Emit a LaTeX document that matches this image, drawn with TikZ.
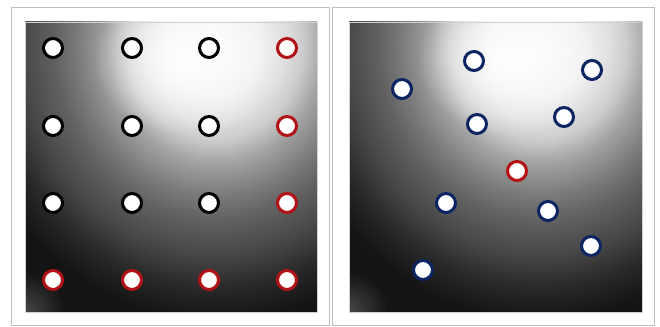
\documentclass[tikz,border=0pt]{standalone}
\usepackage{tikz}
\usetikzlibrary{fadings}
\definecolor{ringred}{RGB}{178,18,22}
\definecolor{ringblue}{RGB}{12,36,98}
\pgfdeclareradialshading{glowshade}{\pgfpoint{0bp}{0bp}}{%
  color(0bp)=(black!2); color(2.5bp)=(black!6); color(3.75bp)=(black!12);
  color(4.75bp)=(black!20); color(5.875bp)=(black!36); color(7.5bp)=(black!52);
  color(8.75bp)=(black!62); color(10.625bp)=(black!73); color(12.125bp)=(black!84);
  color(13.75bp)=(black!92); color(50bp)=(black!95)}
\tikzfading[name=glowfade, inner color=transparent!0, outer color=transparent!100]
\tikzset{
  frame/.style={fill=white, draw=black!25, line width=0.6pt},
  panel/.style={draw=black!18, line width=0.4pt},
  hotspot/.style={fill=white, path fading=glowfade},
  smudge/.style={fill=white, fill opacity=0.22, path fading=glowfade},
  ring/.style={circle, fill=white, line width=0.075cm, minimum size=0.475cm, inner sep=0pt},
  blackring/.style={ring, draw=black},
  redring/.style={ring, draw=ringred},
  bluering/.style={ring, draw=ringblue},
}
\begin{document}
\begin{tikzpicture}
\useasboundingbox (0,0) rectangle (16.5,8.175);
% frames
\draw[frame] (0.275,0.05) rectangle (8.225,8.0);
\draw[frame] (8.3,0.05) rectangle (16.35,8.0);
% left panel background
\begin{scope}
\clip (0.625,0.375) rectangle (7.925,7.625);
\shade[shading=glowshade] (-6.125,-5.45) rectangle (16.875,19.55);
\fill[hotspot] (4.625,6.7) ellipse (2.3 and 1.9);
\fill[smudge] (0.625,0.375) circle (1.0);
\end{scope}
\draw[panel] (0.625,0.375) rectangle (7.925,7.625);
% right panel background
\begin{scope}
\clip (8.725,0.375) rectangle (16.05,7.625);
\shade[shading=glowshade] (1.975,-5.45) rectangle (24.975,19.55);
\fill[hotspot] (12.725,6.7) ellipse (2.3 and 1.9);
\fill[smudge] (8.725,0.375) circle (1.0);
\end{scope}
\draw[panel] (8.725,0.375) rectangle (16.05,7.625);
% left grid
\node[blackring] (g11) at (1.325,6.975) {};
\node[blackring] (g12) at (3.3,6.975) {};
\node[blackring] (g13) at (5.225,6.975) {};
\node[redring] (g14) at (7.175,6.975) {};
\node[blackring] (g21) at (1.325,5.025) {};
\node[blackring] (g22) at (3.3,5.025) {};
\node[blackring] (g23) at (5.225,5.025) {};
\node[redring] (g24) at (7.175,5.025) {};
\node[blackring] (g31) at (1.325,3.1) {};
\node[blackring] (g32) at (3.3,3.1) {};
\node[blackring] (g33) at (5.225,3.1) {};
\node[redring] (g34) at (7.175,3.1) {};
\node[redring] (g41) at (1.325,1.175) {};
\node[redring] (g42) at (3.3,1.175) {};
\node[redring] (g43) at (5.225,1.175) {};
\node[redring] (g44) at (7.175,1.175) {};
% right scatter
\node[bluering] (s1) at (10.05,5.95) {};
\node[bluering] (s2) at (11.85,6.65) {};
\node[bluering] (s3) at (14.8,6.425) {};
\node[bluering] (s4) at (11.925,5.075) {};
\node[bluering] (s5) at (14.1,5.25) {};
\node[redring] (s6) at (12.925,3.9) {};
\node[bluering] (s7) at (11.15,3.1) {};
\node[bluering] (s8) at (13.7,2.9) {};
\node[bluering] (s9) at (14.775,2.025) {};
\node[bluering] (s10) at (10.575,1.425) {};
\end{tikzpicture}
\end{document}
